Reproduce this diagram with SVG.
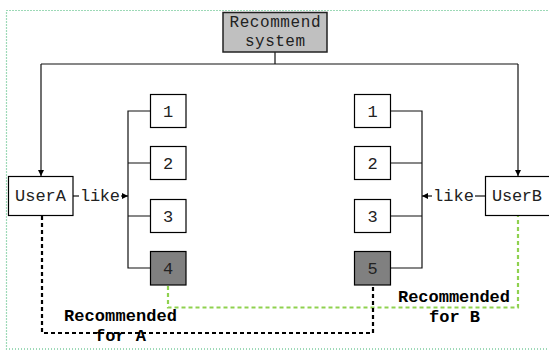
<svg xmlns="http://www.w3.org/2000/svg" width="549" height="350" viewBox="0 0 549 350">
<style>
.box{fill:#fff;stroke:#000;stroke-width:1.2}
.sel{fill:#808080;stroke:#000;stroke-width:1.2}
.sys{fill:#c0c0c0;stroke:#222;stroke-width:1.5}
.t{font-family:"Liberation Mono",monospace;font-size:17px;fill:#222;text-anchor:middle}
.s{font-size:16px}
.b{font-family:"Liberation Mono",monospace;font-size:17px;font-weight:bold;fill:#000;text-anchor:middle}
.ln{fill:none;stroke:#111;stroke-width:1.2}
.gd{fill:none;stroke:#8fd14f;stroke-width:2.2;stroke-dasharray:4 3}
.kd{fill:none;stroke:#000;stroke-width:2.2;stroke-dasharray:4 3}
</style>
<defs>
<marker id="ar" viewBox="0 0 10 10" refX="10" refY="5" markerWidth="6" markerHeight="6" markerUnits="userSpaceOnUse" orient="auto">
<path d="M0,0 L10,5 L0,10 z" fill="#000"/>
</marker>
</defs>
<rect x="6.5" y="10.5" width="560" height="338.5" fill="none" stroke="#3cb371" stroke-width="1.2" stroke-dasharray="1 2"/>
<g id="connectors">
<path class="ln" d="M275,52 V64 M41,64 H518"/>
<path class="ln" d="M41,64 V176" marker-end="url(#ar)"/>
<path class="ln" d="M518,64 V176" marker-end="url(#ar)"/>
<path class="ln" d="M150,111 H128 V268 H150 M128,163 H150 M128,216 H150"/>
<path class="ln" d="M391,111 H422 V268 H391 M391,163 H422 M391,216 H422"/>
<path class="ln" d="M73,196 H79"/>
<path class="ln" d="M121,196 H128" marker-end="url(#ar)"/>
<path class="ln" d="M485,196 H475"/>
<path class="ln" d="M432,196 H422" marker-end="url(#ar)"/>
<text class="t" x="100" y="201" textLength="40">like</text>
<text class="t" x="453.5" y="201" textLength="41">like</text>
<path class="gd" d="M168,286 V307.5 H518 V216"/>
<path class="kd" d="M42,216 V333 H373 V286"/>
<text class="b" x="120.5" y="321" textLength="113">Recommended</text>
<text class="b" x="120.5" y="341" textLength="51">for A</text>
<text class="b" x="454" y="302" textLength="112">Recommended</text>
<text class="b" x="454.5" y="322" textLength="51">for B</text>
</g>
<g id="recommend">
<rect class="sys" x="223" y="12.5" width="104" height="39.5"/>
<text class="t s" x="275" y="27" textLength="91">Recommend</text>
<text class="t s" x="275" y="46" textLength="60">system</text>
</g>
<g id="userA">
<rect class="box" x="8.5" y="176.5" width="64.5" height="39"/>
<text class="t" x="40.5" y="201" textLength="51">UserA</text>
</g>
<g id="userB">
<rect class="box" x="485.5" y="176.5" width="70" height="39"/>
<text class="t" x="517" y="201" textLength="50">UserB</text>
</g>
<g id="a1"><rect class="box" x="150.5" y="94.5" width="35.5" height="33"/><text class="t" x="168" y="117">1</text></g>
<g id="a2"><rect class="box" x="150.5" y="146.5" width="35.5" height="33"/><text class="t" x="168" y="169">2</text></g>
<g id="a3"><rect class="box" x="150.5" y="199.5" width="35.5" height="33"/><text class="t" x="168" y="222">3</text></g>
<g id="a4"><rect class="sel" x="150.5" y="251.5" width="35.5" height="33.5"/><text class="t" x="168" y="274">4</text></g>
<g id="b1"><rect class="box" x="354.5" y="94.5" width="36" height="33"/><text class="t" x="372.5" y="117">1</text></g>
<g id="b2"><rect class="box" x="354.5" y="146.5" width="36" height="33"/><text class="t" x="372.5" y="169">2</text></g>
<g id="b3"><rect class="box" x="354.5" y="199.5" width="36" height="33"/><text class="t" x="372.5" y="222">3</text></g>
<g id="b5"><rect class="sel" x="354.5" y="251.5" width="36" height="33.5"/><text class="t" x="372.5" y="274">5</text></g>
</svg>
